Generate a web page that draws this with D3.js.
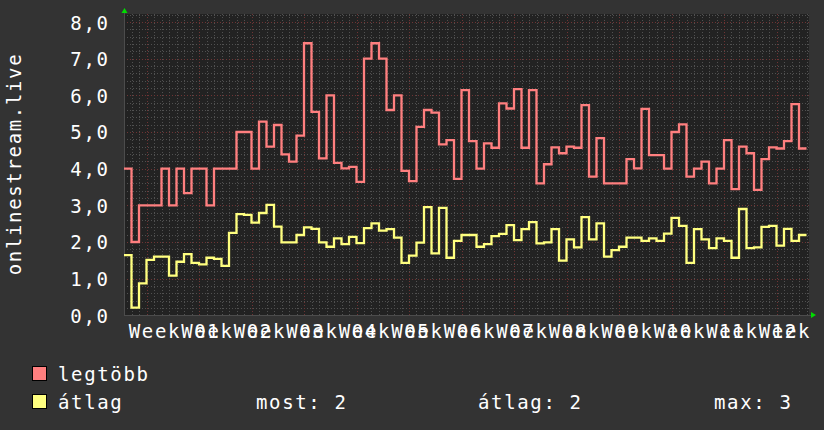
<!DOCTYPE html>
<html><head><meta charset="utf-8">
<script src="https://cdn.jsdelivr.net/npm/d3@7/dist/d3.min.js"></script>
<style>
html,body{margin:0;padding:0;background:#333333;}
svg text{font-family:"DejaVu Sans Mono",monospace;fill:#ffffff;}
</style>
</head><body>
<svg id="chart" width="824" height="430"></svg>
<script>
// ---- data ----
const weekLabels = ["Week 01","Week 02","Week 03","Week 04","Week 05","Week 06","Week 07",
  "Week 08","Week 09","Week 10","Week 11","Week 12","Week 13"];
const legtobb = [4.0,2.0,3.0,3.0,3.0,4.0,3.0,4.0,3.33,4.0,4.0,3.0,4.0,4.0,4.0,5.0,5.0,4.0,
  5.28,4.6,5.19,4.39,4.19,4.9,7.42,5.55,4.28,6.0,4.16,4.01,4.05,3.64,7.0,7.42,7.0,5.6,6.0,
  3.94,3.66,5.14,5.6,5.53,4.66,4.78,3.72,6.14,4.75,4.0,4.69,4.57,5.78,5.64,6.17,4.57,6.14,
  3.6,4.12,4.58,4.42,4.6,4.57,5.73,3.78,4.83,3.6,3.6,3.6,4.26,4.01,5.63,4.37,4.37,4.0,
  5.0,5.21,3.78,4.0,4.19,3.6,4.0,4.78,3.44,4.6,4.42,3.42,4.26,4.58,4.55,4.75,5.76,4.55];
const atlag = [1.64,0.21,0.87,1.51,1.6,1.6,1.08,1.46,1.67,1.43,1.39,1.57,1.54,1.35,2.25,2.76,
  2.74,2.53,2.79,3.01,2.42,1.99,1.99,2.19,2.4,2.36,1.99,1.87,2.1,1.94,2.14,1.97,2.38,2.51,
  2.31,2.35,2.12,1.43,1.63,1.98,2.95,1.69,2.93,1.57,2.03,2.19,2.19,1.87,1.94,2.16,2.22,2.46,
  2.05,2.35,2.54,1.96,1.99,2.35,1.49,2.07,1.85,2.68,2.07,2.51,1.6,1.78,1.87,2.12,2.12,2.03,
  2.1,2.03,2.23,2.66,2.44,1.43,2.35,2.07,1.83,2.1,2.03,1.57,2.9,1.83,1.85,2.41,2.44,1.9,
  2.36,2.03,2.19];
const yTickValues = [0,1,2,3,4,5,6,7,8];
const seriesNames = ["legtöbb","átlag"];
const seriesColors = ["#ff7f7f","#ffff7f"];
const statLabels = ["most: 2","átlag: 2","max: 3"];
const yTitle = "onlinestream.live";

// ---- layout ----
const svg = d3.select("#chart");
const nDays = legtobb.length;
const plot = {left:124, right:809, top:14, bottom:316};
const x = d3.scaleLinear().domain([0, nDays]).range([124, 806.5]);
const y = d3.scaleLinear().domain([0, 8]).range([315.3, 22]);
const fontSize = 19, ls = 1.65;

svg.append("rect").attr("width",824).attr("height",430).attr("fill","#333333");
svg.append("rect").attr("x",plot.left).attr("y",plot.top)
  .attr("width",plot.right-plot.left).attr("height",plot.bottom-plot.top).attr("fill","#222222");

const weekTickDays = weekLabels.map((d,i)=>3+7*i);
const g = svg.append("g");
const minorCol = "#505050", majorCol = "#6e3434", dash = "1,2";
// minor grid
const minorDays = d3.range(1, Math.floor(x.invert(plot.right))+1).filter(d=>!weekTickDays.includes(d));
g.selectAll(".mv").data(minorDays).join("line")
  .attr("x1",d=>Math.round(x(d))+0.5).attr("x2",d=>Math.round(x(d))+0.5).attr("y1",plot.top).attr("y2",plot.bottom)
  .attr("stroke",minorCol).attr("stroke-width",1).attr("stroke-dasharray",dash);
const minorY = d3.range(1, 42).map(i=>i*0.2).filter(v=>Math.abs(v-Math.round(v))>1e-6 && y(v)>=plot.top);
g.selectAll(".mh").data(minorY).join("line")
  .attr("x1",plot.left).attr("x2",plot.right).attr("y1",d=>Math.round(y(d))+0.5).attr("y2",d=>Math.round(y(d))+0.5)
  .attr("stroke",minorCol).attr("stroke-width",1).attr("stroke-dasharray",dash);
// major grid
g.selectAll(".Mv").data(weekTickDays).join("line")
  .attr("x1",d=>Math.round(x(d))+0.5).attr("x2",d=>Math.round(x(d))+0.5).attr("y1",plot.top).attr("y2",plot.bottom)
  .attr("stroke",majorCol).attr("stroke-width",1).attr("stroke-dasharray",dash);
g.selectAll(".Mh").data(yTickValues.filter(v=>v>0)).join("line")
  .attr("x1",plot.left).attr("x2",plot.right).attr("y1",d=>Math.round(y(d))+0.5).attr("y2",d=>Math.round(y(d))+0.5)
  .attr("stroke",majorCol).attr("stroke-width",1).attr("stroke-dasharray",dash);

// axes lines
svg.append("line").attr("x1",plot.left).attr("x2",plot.right+3).attr("y1",315.5).attr("y2",315.5)
  .attr("stroke","#4c4c4c").attr("stroke-width",1);
svg.append("line").attr("x1",plot.left+0.5).attr("x2",plot.left+0.5).attr("y1",plot.top-3).attr("y2",plot.bottom)
  .attr("stroke","#4c4c4c").attr("stroke-width",1);
// arrows
svg.append("path").attr("d",`M${plot.left-2.5},13 L${plot.left+3.5},13 L${plot.left+0.5},8 Z`).attr("fill","#00dd00");
svg.append("path").attr("d",`M811,312 L811,318 L816,315 Z`).attr("fill","#00dd00");

// y axis labels
svg.append("g").selectAll("text").data(yTickValues).join("text")
  .attr("x",108+ls).attr("y",d=>y(d)+7.5).attr("text-anchor","end")
  .attr("font-size",fontSize).attr("letter-spacing",ls)
  .text(d=>d3.format(".1f")(d).replace(".",","));
// x labels
svg.append("g").selectAll("text").data(weekLabels).join("text")
  .attr("x",(d,i)=>x(weekTickDays[i]+3.5)+1+ls/2).attr("y",338).attr("text-anchor","middle")
  .attr("font-size",fontSize).attr("letter-spacing",ls)
  .text(d=>d);
// y title
svg.append("text").attr("transform","translate(21,164) rotate(-90)").attr("text-anchor","middle")
  .attr("font-size",fontSize).attr("letter-spacing",ls).text(yTitle);

// series
svg.append("clipPath").attr("id","pc").append("rect")
  .attr("x",plot.left).attr("y",plot.top).attr("width",plot.right-plot.left).attr("height",plot.bottom-plot.top);
const line = d3.line().x(d=>x(d[0])).y(d=>y(d[1])).curve(d3.curveStepAfter);
[legtobb, atlag].forEach((s,i)=>{
  const pts = s.map((v,d)=>[d,v]); pts.push([s.length, s[s.length-1]]);
  svg.append("path").datum(pts).attr("d",line).attr("fill","none")
    .attr("stroke",seriesColors[i]).attr("stroke-width",2.3).attr("clip-path","url(#pc)");
});

// legend
const leg = svg.append("g");
seriesNames.forEach((n,i)=>{
  const yy = 366 + i*28;
  leg.append("rect").attr("x",32.5).attr("y",yy+0.5).attr("width",14).attr("height",14)
    .attr("fill",seriesColors[i]).attr("stroke","#000").attr("stroke-width",1);
  leg.append("text").attr("x",58).attr("y",yy+15).attr("font-size",fontSize).attr("letter-spacing",ls).text(n);
});
const statX = [256, 478, 714];
statLabels.forEach((t,i)=>{
  leg.append("text").attr("x",statX[i]).attr("y",366+28+15).attr("font-size",fontSize).attr("letter-spacing",ls).text(t);
});
</script>
</body></html>
